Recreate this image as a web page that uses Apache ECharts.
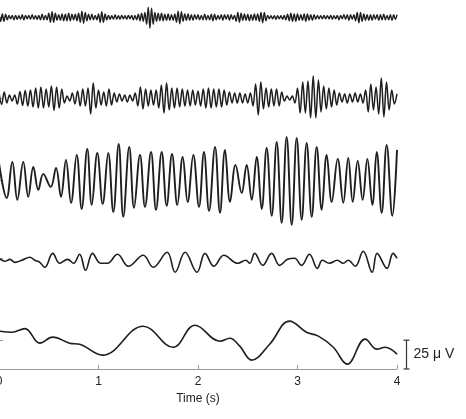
<!DOCTYPE html>
<html><head><meta charset="utf-8">
<script src="https://cdn.jsdelivr.net/npm/echarts@6/dist/echarts.min.js"></script>
<style>html,body{margin:0;padding:0;background:#fff;overflow:hidden}#c{width:466px;height:419px}</style>
</head><body><div id="c"></div>
<script>
// x axis (seconds)
const xTicks = [0, 1, 2, 3, 4];
const xTitle = 'Time (s)';
// vertical placement of each trace baseline (µV on the shared y scale)
const baselines = [305, 235, 164, 96, 25];
const scaleBarValue = 25;
const scaleBarLabel = '25 \u03bc V';

// trace 1 (fast band): successive half-cycle extrema, sampled every 1/60 s (µV)
const fastStep = 1 / 60;
const fast = [
 3.0,-3.5,3.0,-3.5,2.6,-2.2,
 1.7,-1.3,1.7,-2.2,1.7,-1.7,1.3,-1.7,2.2,-2.2,1.7,-1.3,1.7,-1.7,2.2,-1.7,1.3,-1.7,1.7,-2.2,2.6,-2.2,1.7,-2.2,
 3.5,-4.3,4.8,-4.3,3.5,-2.6,2.2,
 -2.6,3.0,-3.0,2.6,-3.0,3.5,-3.0,2.6,-2.2,2.6,-3.0,
 3.5,-4.3,5.2,-5.2,4.3,-3.0,
 2.6,-2.2,2.6,-2.2,1.7,-2.2,
 3.0,-4.3,4.8,-4.3,3.0,-2.2,
 1.7,-1.7,1.3,-1.7,2.2,-1.7,1.3,-1.7,1.7,-1.3,1.3,-1.7,1.7,-1.3,1.7,-2.2,1.7,-2.2,
 2.6,-3.0,3.5,-3.5,4.3,
 -6.1,8.7,-9.5,7.8,-6.1,4.3,-3.5,
 3.5,-3.0,3.5,-3.0,2.6,-2.6,3.0,-2.6,2.2,-2.6,3.0,
 -4.3,5.2,-5.6,4.8,-3.5,3.0,
 -2.6,3.0,-2.6,2.2,-2.6,2.2,-1.7,2.2,
 -2.2,1.7,-2.2,2.6,-2.2,1.7,-2.2,2.6,-3.0,2.6,-2.2,1.7,-1.7,2.2,-2.6,2.2,-1.7,2.2,-2.6,2.2,-1.7,1.7,
 -3.5,4.3,-4.3,3.5,
 -2.6,3.0,-2.6,2.6,-3.0,2.2,-2.6,3.0,-2.6,3.0,-3.5,
 4.3,-4.8,4.3,-3.0,
 1.7,-1.3,1.3,-1.3,1.3,-1.7,1.3,-1.3,1.3,-1.7,1.7,-2.2,2.6,
 -3.0,3.5,-3.5,3.0,-3.5,3.0,-2.6,2.2,-2.6,
 3.0,-3.5,3.0,-2.6,2.2,-2.6,2.2,-1.7,1.7,
 -1.3,1.3,-1.3,1.7,-1.3,1.3,-1.3,1.7,-1.7,1.3,-1.3,1.7,-2.2,1.7,-1.3,
 2.2,-1.7,2.2,-2.6,2.2,-1.7,2.2,
 -3.0,4.3,-4.8,4.3,-3.5,3.0,-2.6,
 2.2,-2.6,2.2,-2.6,2.2,-1.7,2.2,-2.6,2.2,-2.2,2.6,-2.2,1.7,-2.2,2.2,-2.6,2.2,-1.7,2.2
];

// trace 2: half-cycle extrema sampled every 1/38 s (µV)
const betaStep = 1 / 38;
const beta = [
 5.2,-5.6,5.2,-4.3,2.6,-2.6,2.6,-5.2,5.6,-6.5,
 6.5,-6.9,6.9,-7.8,8.7,-8.7,9.5,-8.7,7.8,-7.8,
 10.4,-10.8,9.5,-8.7,7.8,-4.3,1.7,-2.6,4.3,-5.2,
 6.1,-6.9,7.8,-6.9,8.7,-13.9,13,-8.7,6.9,-6.1,
 5.2,-6.9,7.8,-6.1,4.3,-3.5,3.5,-2.6,2.6,-3.5,
 2.6,-2.6,4.3,-6.9,9.5,-9.5,7.8,-6.9,6.9,-6.1,
 6.9,-8.7,11.3,-13,13,-10.4,8.7,-8.7,8.7,-7.8,
 7.8,-6.9,6.9,-6.9,6.9,-6.1,6.1,-6.9,7.8,-8.7,
 8.7,-8.7,7.8,-7.8,7.8,-7.8,6.9,-6.1,5.2,-4.3,
 4.3,-4.3,4.3,-4.3,3.5,-4.3,4.3,-6.9,12.1,-14.7,
 13.9,-9.5,8.7,-7.8,7.8,-6.9,7.8,-6.9,5.2,-2.6,
 1.7,-1.7,1.7,-4.3,8.7,-13,13.9,-13,14.7,-17.3,
 19.1,-17.3,15.6,-12.1,10.4,-9.5,8.7,-7.8,6.9,-6.1,
 4.3,-3.5,3.5,-4.3,3.5,-3.5,4.3,-3.5,3.5,-4.3,
 6.9,-12.1,12.1,-10.4,9.5,-13.9,17.3,-16.5,13.9,-10.4,
 6.9,-5.2,3.5
];

// trace 3: [time s, µV] extrema
const alpha = [
 [0,14.7],[0.077,-15.6],[0.134,15.6],[0.184,-17.3],[0.244,15.6],[0.294,-14.7],[0.345,11.3],[0.395,-8.7],
 [0.445,5.2],[0.520,-6.1],[0.573,10.4],[0.623,-14.7],[0.673,17.3],[0.724,-19.9],[0.781,21.7],[0.831,-25.2],
 [0.887,26.9],[0.932,-21.7],[0.988,23.4],[1.042,-20.8],[1.098,23.4],[1.149,-27.8],[1.203,31.2],[1.249,-32.1],
 [1.309,28.6],[1.357,-24.3],[1.417,21.7],[1.467,-23.4],[1.528,24.3],[1.578,-26.0],[1.635,24.3],[1.685,-22.5],
 [1.739,22.5],[1.792,-21.7],[1.846,19.9],[1.896,-19.1],[1.953,21.7],[2.010,-23.4],[2.060,24.3],[2.111,-26.9],
 [2.171,28.6],[2.221,-28.6],[2.271,26.0],[2.322,-19.1],[2.377,13.0],[2.439,-11.3],[2.489,13.0],[2.540,-17.3],
 [2.590,19.9],[2.640,-25.2],[2.690,27.8],[2.741,-31.2],[2.791,33.0],[2.841,-37.3],[2.891,37.3],[2.942,-39.0],
 [2.992,36.4],[3.042,-34.7],[3.092,32.1],[3.143,-32.1],[3.193,28.6],[3.243,-26.0],[3.293,21.7],[3.344,-19.1],
 [3.404,18.2],[3.460,-19.9],[3.510,19.1],[3.555,-19.1],[3.605,16.5],[3.655,-17.3],[3.702,18.2],[3.752,-21.7],
 [3.796,24.3],[3.846,-28.6],[3.896,30.4],[3.953,-31.2],[4.0,26.0]
];

// trace 4: [time s, µV]
const theta = [
 [0,0],[0.06,-2.6],[0.11,-0.9],[0.16,-3.5],[0.23,-1.7],[0.31,0.9],[0.36,-1.7],[0.41,-3.5],[0.46,-7.8],
 [0.54,4.3],[0.61,-4.3],[0.69,-0.9],[0.75,-4.3],[0.81,3.5],[0.87,-10.4],[0.94,4.3],[1.02,-4.3],[1.09,-4.3],
 [1.19,3.5],[1.30,-6.9],[1.45,2.6],[1.55,-7.8],[1.69,5.2],[1.77,-12.1],[1.87,5.2],[1.99,-12.1],[2.07,4.3],
 [2.16,-6.9],[2.26,2.6],[2.40,-4.3],[2.48,-1.7],[2.52,-4.3],[2.57,4.3],[2.65,-6.1],[2.74,4.3],[2.82,-6.1],
 [2.90,-0.9],[2.97,0],[3.04,-6.1],[3.12,3.5],[3.20,-8.7],[3.25,-1.7],[3.32,-4.3],[3.40,-1.7],[3.46,-4.3],
 [3.51,-1.7],[3.58,-6.9],[3.66,6.1],[3.75,-12.1],[3.80,4.3],[3.90,-8.7],[3.96,4.3],[4.0,0]
];

// trace 5: [time s, µV]
const delta = [
 [0,7.8],[0.13,6.9],[0.26,10],[0.41,-2.6],[0.54,2.6],[0.71,-2.6],[0.81,-3.5],[1.04,-13],[1.45,12.1],
 [1.75,-6.1],[1.97,13],[2.22,-0.9],[2.32,1.7],[2.42,-5.2],[2.54,-17.3],[2.72,-3.5],[2.92,16.5],[3.09,6.9],
 [3.21,3.5],[3.36,-6.1],[3.50,-20.8],[3.68,0.9],[3.80,-7.8],[3.88,-6.1],[4.0,-12.1]
];

const chart = echarts.init(document.getElementById('c'), null, {renderer: 'canvas'});
const traces = [
  fast.map((v, i) => [i * fastStep, v]),
  beta.map((v, i) => [i * betaStep, v]),
  alpha, theta, delta
];
const FONT = '"Liberation Sans", Arial, Helvetica, sans-serif';
const axisGray = '#9a9a9a';
const smoothing = [0.35, 0.35, 0.4, 0.4, 0.4];
const widths = [1.4, 1.5, 1.9, 1.6, 1.6];

const series = traces.map((d, k) => ({
  type: 'line',
  data: d.map(p => [p[0], p[1] + baselines[k]]),
  showSymbol: false,
  symbol: 'none',
  smooth: smoothing[k],
  clip: true,
  lineStyle: {color: '#1e1e1e', width: widths[k]},
  animation: false
}));

chart.setOption({
  animation: false,
  grid: {left: -1, right: 69, top: 0, bottom: 50, outerBoundsMode: 'none', containLabel: false},
  xAxis: {
    type: 'value', min: xTicks[0], max: xTicks[xTicks.length - 1], interval: 1,
    name: xTitle, nameLocation: 'middle', nameGap: 23,
    nameTextStyle: {fontFamily: FONT, fontSize: 12, color: '#222'},
    axisLine: {show: true, lineStyle: {color: axisGray, width: 1}},
    axisTick: {show: true, inside: true, length: 4, lineStyle: {color: axisGray}},
    axisLabel: {fontFamily: FONT, fontSize: 12, color: '#222', margin: 7, showMinLabel: true, showMaxLabel: true},
    splitLine: {show: false}
  },
  yAxis: [{
    type: 'value', min: 0, max: 320, position: 'right',
    axisLine: {show: true, lineStyle: {color: axisGray, width: 1}},
    axisTick: {show: true, inside: true, length: 4, customValues: baselines, lineStyle: {color: axisGray}},
    axisLabel: {show: false},
    splitLine: {show: false}
  }, {
    type: 'value', min: 0, max: 320, position: 'left',
    axisLine: {show: false, lineStyle: {color: 'rgba(0,0,0,0)'}},
    axisTick: {show: true, inside: true, length: 4, customValues: baselines, lineStyle: {color: axisGray}},
    axisLabel: {show: false},
    splitLine: {show: false}
  }],
  series: series
});

// scale bar placed from the axis scale
const xEnd = chart.convertToPixel({xAxisIndex: 0}, xTicks[xTicks.length - 1]);
const yBot = chart.convertToPixel({yAxisIndex: 0}, 0);
const yTop = chart.convertToPixel({yAxisIndex: 0}, scaleBarValue);
const bx = xEnd + 9.5;
chart.setOption({
  graphic: [
    {type: 'line', shape: {x1: bx, y1: yTop, x2: bx, y2: yBot}, style: {stroke: '#333', lineWidth: 1.2}},
    {type: 'line', shape: {x1: bx - 3, y1: yTop, x2: bx + 3, y2: yTop}, style: {stroke: '#333', lineWidth: 1.2}},
    {type: 'line', shape: {x1: bx - 3, y1: yBot, x2: bx + 3, y2: yBot}, style: {stroke: '#333', lineWidth: 1.2}},
    {type: 'text', x: bx + 7, y: (yTop + yBot) / 2, style: {text: scaleBarLabel, fontFamily: FONT, fontSize: 14, fill: '#222', textVerticalAlign: 'middle', verticalAlign: 'middle'}}
  ]
});
</script></body></html>
